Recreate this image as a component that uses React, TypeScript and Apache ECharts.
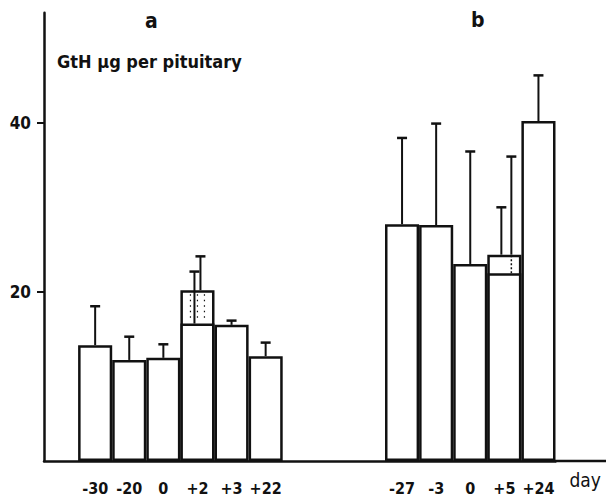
import React, { useEffect, useRef } from "react";
import * as echarts from "echarts";

// Categories (day), with blank slots for spacing between panels a and b
const days = ["", "-30", "-20", "0", "+2", "+3", "+22", "", "", "", "-27", "-3", "0", "+5", "+24"];
// Mean GtH (µg per pituitary)
const meanValues = [null, 13.7, 11.95, 12.2, 16.25, 16.1, 12.4, null, null, null, 28.0, 27.9, 23.3, 22.2, 40.2];
// Top of error bar above the mean
const meanErrorTops = [null, 18.3, 14.7, 13.8, 22.4, 16.6, 14.0, null, null, null, 38.2, 39.9, 36.6, 36.0, 45.6];
// Upper (second) value shown as an added box on compound bars
const boxValues = [null, null, null, null, 20.2, null, null, null, null, null, null, null, null, 24.4, null];
const boxErrorTops = [null, null, null, null, 24.2, null, null, null, null, null, null, null, null, 30.0, null];
const yTicks = [20, 40];

const FONT = '"DejaVu Sans Condensed", "DejaVu Sans", sans-serif';
const INK = "#111";

export default function App() {
  const ref = useRef<HTMLDivElement>(null);
  useEffect(() => {
    if (!ref.current) return;
    const chart = echarts.init(ref.current, undefined, { renderer: "svg" });

    const meanErrData = meanValues
      .map((v, i) => (v == null || meanErrorTops[i] == null ? null : [i, v, meanErrorTops[i]]))
      .filter((d) => d != null);
    const boxErrData = boxValues
      .map((v, i) => (v == null || boxErrorTops[i] == null ? null : [i, v, boxErrorTops[i]]))
      .filter((d) => d != null);

    const errorRender = (kind: "mean" | "box") => (params: any, api: any) => {
      const i = api.value(0);
      const lo = api.value(1);
      const hi = api.value(2);
      const compound = boxValues[i] != null;
      const panelA = i < 7;
      let dx = 0;
      if (compound) {
        if (kind === "mean") dx = panelA ? -3 : 7;
        else dx = panelA ? 3 : -3;
      }
      const pLo = api.coord([i, lo]);
      const pHi = api.coord([i, hi]);
      const x = pLo[0] + dx;
      const children: any[] = [];
      if (kind === "mean" && compound && !panelA) {
        const pBox = api.coord([i, boxValues[i] as number]);
        children.push({
          type: "line",
          shape: { x1: x, y1: pLo[1], x2: x, y2: pBox[1] },
          style: { stroke: INK, lineWidth: 1.5, lineDash: [2, 2] },
        });
        children.push({
          type: "line",
          shape: { x1: x, y1: pBox[1], x2: x, y2: pHi[1] },
          style: { stroke: INK, lineWidth: 2 },
        });
      } else {
        children.push({
          type: "line",
          shape: { x1: x, y1: pLo[1], x2: x, y2: pHi[1] },
          style: { stroke: INK, lineWidth: 2 },
        });
      }
      children.push({
        type: "line",
        shape: { x1: x - 5, y1: pHi[1], x2: x + 5, y2: pHi[1] },
        style: { stroke: INK, lineWidth: 2.5 },
      });
      if (kind === "box" && panelA) {
        // stippling inside the added box
        const pMean = api.coord([i, meanValues[i] as number]);
        [-7, 0, 7].forEach((ox) => {
          children.push({
            type: "line",
            shape: { x1: pLo[0] + ox, y1: pLo[1] + 4, x2: pLo[0] + ox, y2: pMean[1] - 4 },
            style: { stroke: INK, lineWidth: 1.2, lineDash: [1.5, 4] },
          });
        });
      }
      return { type: "group", children };
    };

    chart.setOption({
      animation: false,
      backgroundColor: "#fff",
      textStyle: { fontFamily: FONT },
      title: [
        { text: "a", left: 140, top: 5, textStyle: { fontFamily: FONT, fontSize: 21, fontWeight: "bold", color: INK } },
        { text: "b", left: 466, top: 4, textStyle: { fontFamily: FONT, fontSize: 21, fontWeight: "bold", color: INK } },
      ],
      grid: { left: 44, top: 12.8, width: 511.5, height: 448.2, outerBoundsMode: "none", containLabel: false },
      xAxis: {
        type: "category",
        data: days,
        boundaryGap: true,
        axisLine: { show: true, lineStyle: { color: INK, width: 2.5 } },
        axisTick: { show: false },
        axisLabel: { interval: 0, fontSize: 16, fontFamily: FONT, fontWeight: "bold", color: INK, margin: 19 },
        name: "day",
        nameLocation: "end",
        nameGap: 14,
        nameTextStyle: { fontSize: 19, fontFamily: FONT, color: INK, align: "left", verticalAlign: "top", padding: [9, 0, 0, 0] },
        splitLine: { show: false },
      },
      yAxis: {
        type: "value",
        min: 0,
        max: 53,
        axisLine: { show: true, lineStyle: { color: INK, width: 2.5 } },
        axisTick: { show: true, customValues: yTicks, length: 7, lineStyle: { color: INK, width: 2 } },
        axisLabel: { customValues: yTicks, fontSize: 17, fontFamily: FONT, fontWeight: "bold", color: INK, margin: 13 },
        splitLine: { show: false },
        name: "GtH µg per pituitary",
        nameLocation: "end",
        nameGap: -58,
        nameTextStyle: { fontSize: 18, fontFamily: FONT, fontWeight: "bold", color: INK, align: "left", padding: [0, 0, 0, 13] },
      },
      series: [
        {
          name: "box",
          type: "bar",
          data: boxValues,
          barCategoryGap: 0,
          barGap: "-100%",
          itemStyle: { color: "#fff", borderColor: INK, borderWidth: 2.5 },
          z: 2,
        },
        {
          name: "mean",
          type: "bar",
          data: meanValues,
          barCategoryGap: 0,
          barGap: "-100%",
          itemStyle: { color: "#fff", borderColor: INK, borderWidth: 2.5 },
          z: 3,
        },
        {
          name: "boxError",
          type: "custom",
          data: boxErrData,
          renderItem: errorRender("box"),
          z: 4,
        },
        {
          name: "meanError",
          type: "custom",
          data: meanErrData,
          renderItem: errorRender("mean"),
          z: 5,
        },
      ],
      graphic: [
        {
          type: "line",
          shape: { x1: 555, y1: 461, x2: 606, y2: 461 },
          style: { stroke: INK, lineWidth: 2.5 },
        },
      ],
    });
    return () => chart.dispose();
  }, []);
  return <div ref={ref} style={{ width: 606, height: 499, position: "absolute", left: 0, top: 0 }} />;
}
